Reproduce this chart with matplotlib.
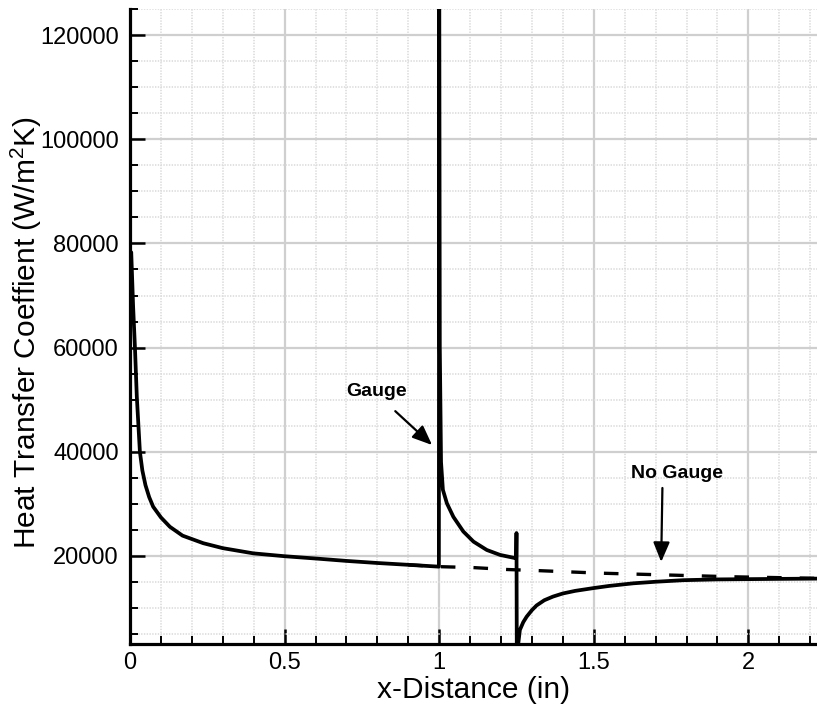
import matplotlib
matplotlib.use("Agg")
import matplotlib.pyplot as plt
from matplotlib.ticker import MultipleLocator, FuncFormatter

plt.rcParams["font.family"] = ["Liberation Sans", "DejaVu Sans"]
plt.rcParams["mathtext.fontset"] = "custom"
plt.rcParams["mathtext.rm"] = "Liberation Sans"
plt.rcParams["lines.scale_dashes"] = False

# heat transfer coefficient along the plate with the gauge inserted (x = 1.0 to 1.25 in)
x_gauge = [0.0, 0.004, 0.010, 0.016, 0.022, 0.032, 0.040, 0.050, 0.062, 0.075, 0.100,
           0.129, 0.17, 0.237, 0.30, 0.399, 0.50, 0.614, 0.70, 0.80, 0.90, 0.999,
           1.000, 1.002, 1.006, 1.012, 1.025, 1.046, 1.078, 1.111, 1.154, 1.197, 1.249,
           1.250, 1.251, 1.256, 1.261, 1.272, 1.283, 1.30, 1.315, 1.34, 1.368, 1.40,
           1.44, 1.501, 1.55, 1.628, 1.70, 1.79, 1.90, 2.00, 2.10, 2.222]
h_gauge = [77500, 78300, 68000, 60000, 50600, 40000, 36400, 33600, 31300, 29450, 27400,
           25600, 23900, 22450, 21500, 20500, 19950, 19450, 19050, 18650, 18300, 17950,
           140000, 60000, 38000, 32700, 30100, 27500, 24700, 22750, 21150, 20200, 19550,
           24400, 2000, 3300, 5800, 7300, 8350, 9600, 10500, 11500, 12200, 12800,
           13300, 13850, 14250, 14750, 15050, 15350, 15500, 15550, 15600, 15650]

# same plate without the gauge
x_nogauge = [0.90, 0.999, 1.11, 1.22, 1.315, 1.52, 1.736, 1.95, 2.18, 2.222]
h_nogauge = [18300, 17950, 17770, 17400, 17200, 16700, 16350, 16000, 15750, 15700]

x_ticks = [0, 0.5, 1, 1.5, 2]
y_ticks = [20000, 40000, 60000, 80000, 100000, 120000]

fig = plt.figure(figsize=(8.17, 7.04), dpi=100)
ax = fig.add_axes([130 / 817, 60 / 704, 1 - 130 / 817, 635 / 704])

ax.plot(x_nogauge, h_nogauge, color="black", lw=2.4, dashes=(10.5, 13))
ax.plot(x_gauge, h_gauge, color="black", lw=2.7, solid_joinstyle="round")

ax.set_xlim(0, 2.222)
ax.set_ylim(3100, 125000)

ax.set_xticks(x_ticks)
ax.set_yticks(y_ticks)
ax.xaxis.set_minor_locator(MultipleLocator(0.1))
ax.yaxis.set_minor_locator(MultipleLocator(5000))
ax.xaxis.set_major_formatter(FuncFormatter(lambda v, p: f"{v:g}"))
ax.yaxis.set_major_formatter(FuncFormatter(lambda v, p: f"{int(v)}"))

ax.grid(which="major", color="#cfcfcf", lw=1.6)
ax.grid(which="minor", color="#dcdcdc", lw=1.2, linestyle=(0, (1, 1)))
ax.set_axisbelow(True)

for side in ["top", "right"]:
    ax.spines[side].set_visible(False)
for side in ["left", "bottom"]:
    ax.spines[side].set_linewidth(2.3)

ax.tick_params(which="major", direction="in", length=10.5, width=1.8,
               labelsize=17, top=False, right=False)
ax.tick_params(axis="y", which="major", pad=8)
ax.tick_params(axis="x", which="major", pad=6)
ax.tick_params(which="minor", direction="in", length=6, width=1.4,
               top=False, right=False)

ax.set_xlabel("x-Distance (in)", fontsize=21.5, labelpad=1)
ax.set_ylabel(r"Heat Transfer Coeffient (W/m$^2$K)", fontsize=21.5)
ax.yaxis.set_label_coords(-0.125, 0.49)

arrow = dict(arrowstyle="-|>,head_length=0.6,head_width=0.25", color="black",
             lw=1.6, mutation_scale=20, shrinkA=0, shrinkB=0)
ax.annotate("", xy=(0.977, 41300), xytext=(0.858, 47800), arrowprops=arrow)
ax.text(0.796, 51500, "Gauge", fontsize=14, fontweight="bold",
        ha="center", va="center")
ax.annotate("", xy=(1.718, 18850), xytext=(1.722, 33050), arrowprops=arrow)
ax.text(1.770, 35740, "No Gauge", fontsize=14, fontweight="bold",
        ha="center", va="center")

fig.savefig("out.png", dpi=100)
